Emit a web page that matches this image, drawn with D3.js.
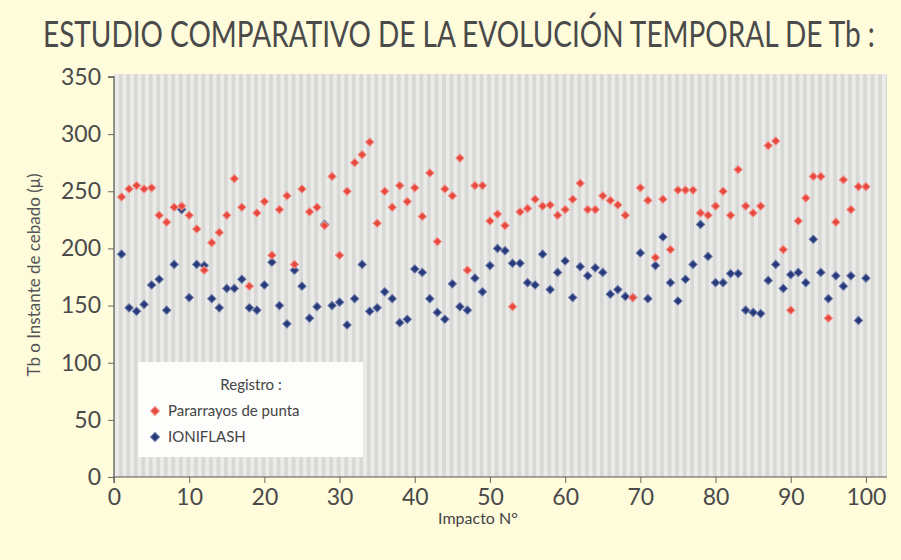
<!DOCTYPE html>
<html>
<head>
<meta charset="utf-8">
<script src="https://cdn.jsdelivr.net/npm/d3@7"></script>
<style>
body { margin: 0; background: #fffcdc; }
svg { display: block; font-family: Lato, "Open Sans", sans-serif; }
</style>
</head>
<body>
<svg></svg>
<script>
let width = 901;
let height = 560;

// Impacto N° 1..100
const impactos = d3.range(1, 101);

// Pararrayos de punta (rojo)
const pararrayos = [245, 252, 255, 252, 253, 229, 223, 236, 237, 229,
  217, 181, 205, 214, 229, 261, 236, 167, 231, 241,
  194, 234, 246, 186, 252, 232, 236, 220, 263, 194,
  250, 275, 282, 293, 222, 250, 236, 255, 241, 253,
  228, 266, 206, 252, 246, 279, 181, 255, 255, 224,
  230, 220, 149, 232, 235, 243, 237, 238, 229, 234,
  243, 257, 234, 234, 246, 242, 238, 229, 157, 253,
  242, 192, 243, 199, 251, 251, 251, 231, 229, 237,
  250, 229, 269, 237, 231, 237, 290, 294, 199, 146,
  224, 244, 263, 263, 139, 223, 260, 234, 254, 254];

// IONIFLASH (azul)
const ioniflash = [195, 148, 145, 151, 168, 173, 146, 186, 234, 157,
  186, 185, 156, 148, 165, 165, 173, 148, 146, 168,
  188, 150, 134, 181, 167, 139, 149, 221, 150, 153,
  133, 156, 186, 145, 148, 162, 156, 135, 138, 182,
  179, 156, 144, 138, 169, 149, 146, 174, 162, 185,
  200, 198, 187, 187, 170, 168, 195, 164, 179, 189,
  157, 184, 176, 183, 179, 160, 164, 158, 157, 196,
  156, 185, 210, 170, 154, 173, 186, 221, 193, 170,
  170, 178, 178, 146, 144, 143, 172, 186, 165, 177,
  179, 170, 208, 179, 156, 176, 167, 176, 137, 174];

const xTicks = [0, 10, 20, 30, 40, 50, 60, 70, 80, 90, 100];
const yTicks = [0, 50, 100, 150, 200, 250, 300, 350];

const series = [
  { name: "IONIFLASH", values: ioniflash, fill: "#28397a", stroke: "#6676a6" },
  { name: "Pararrayos de punta", values: pararrayos, fill: "#e6493f", stroke: "#f2938a" }
];

const x = d3.scaleLinear()
.domain([0, 102.8])
.range([114, 887]);

const y = d3.scaleLinear()
.domain([0, 352.6])
.range([477, 74]);

const svg = d3.select("svg")
.attr("width", width)
.attr("height", height);

// titulo: letra estrecha, se comprime en horizontal
const title = svg.append("text")
.attr("x", 0)
.attr("y", 0)
.style("font-size", "37px")
.attr("fill", "#4a4a4a")
.text("ESTUDIO COMPARATIVO DE LA EVOLUCIÓN TEMPORAL DE Tb :");

const tw = title.node().getComputedTextLength();
title.attr("transform", `translate(43,47) scale(${832 / tw},1)`);

// fondo del grafico con rayas verticales
svg.append("rect")
.attr("x", x(0))
.attr("y", y(352.6))
.attr("width", x(102.8) - x(0))
.attr("height", y(0) - y(352.6))
.attr("fill", "#d8d8d6");

svg.append("g")
.selectAll("rect")
.data(d3.range(0, 103))
.join("rect")
.attr("x", d => x(d) + 1)
.attr("y", y(352.6))
.attr("width", (x(1) - x(0)) * 0.5)
.attr("height", y(0) - y(352.6))
.attr("fill", "#ebebe9");

// ejes
const yAxis = svg.append("g")
.attr("transform", `translate(${x(0)},0)`)
.call(d3.axisLeft(y).tickValues(yTicks).tickSize(6).tickPadding(7));

const xAxis = svg.append("g")
.attr("transform", `translate(0,${y(0)})`)
.call(d3.axisBottom(x).tickValues(xTicks).tickSize(6).tickPadding(6));

[xAxis, yAxis].forEach(a => {
  a.select(".domain").attr("stroke", "#555").attr("stroke-width", 1.2);
  a.selectAll(".tick line").attr("stroke", "#666");
  a.selectAll(".tick text")
  .attr("fill", "#4a4a4a")
  .style("font-size", "23px")
  .style("font-family", "Lato, sans-serif");
});

// el eje Y sube hasta el borde superior
yAxis.select(".domain").attr("d", `M-6,${y(350)}H0V${y(0)}`);
xAxis.select(".domain").attr("d", `M${x(0)},6V0H${x(102.8)}`);

// titulos de ejes
svg.append("text")
.attr("transform", `translate(40,275) rotate(-90)`)
.attr("text-anchor", "middle")
.attr("fill", "#555")
.style("font-size", "17px")
.text("Tb o Instante de cebado (μ)");

svg.append("text")
.attr("x", 478)
.attr("y", 524)
.attr("text-anchor", "middle")
.attr("fill", "#444")
.style("font-size", "16px")
.text("Impacto N°");

// puntos
const diamond = d3.symbol().type(d3.symbolSquare).size(34);

series.forEach(s => {
  svg.append("g")
  .selectAll("path")
  .data(s.values)
  .join("path")
  .attr("d", diamond)
  .attr("transform", (d, i) => `translate(${x(impactos[i])},${y(d)}) rotate(45)`)
  .attr("fill", s.fill)
  .attr("stroke", s.stroke)
  .attr("stroke-width", 1);
});

// leyenda
const legend = svg.append("g");

legend.append("rect")
.attr("x", 138)
.attr("y", 362)
.attr("width", 225)
.attr("height", 95)
.attr("fill", "#fdfdfb");

legend.append("text")
.attr("x", 251)
.attr("y", 390)
.attr("text-anchor", "middle")
.attr("fill", "#444")
.style("font-size", "15px")
.text("Registro :");

const items = [series[1], series[0]];

legend.selectAll("path")
.data(items)
.join("path")
.attr("d", d3.symbol().type(d3.symbolSquare).size(40))
.attr("transform", (d, i) => `translate(155,${411 + i * 26}) rotate(45)`)
.attr("fill", d => d.fill)
.attr("stroke", d => d.stroke);

legend.selectAll("text.item")
.data(items)
.join("text")
.classed("item", true)
.attr("x", 168)
.attr("y", (d, i) => 416 + i * 26)
.attr("fill", "#444")
.style("font-size", "15px")
.text(d => d.name);
</script>
</body>
</html>
